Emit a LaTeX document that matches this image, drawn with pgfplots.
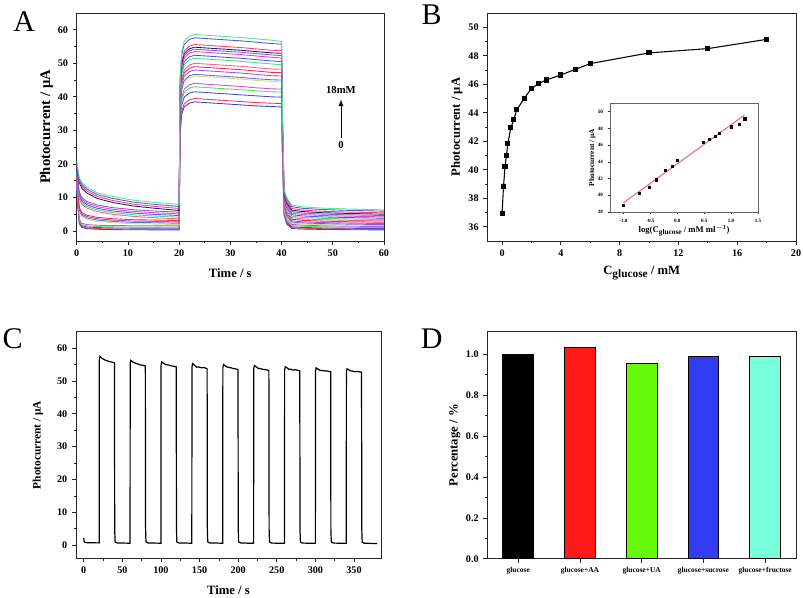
\documentclass[border=0pt]{standalone}
\usepackage{fontspec}
\setmainfont{Liberation Serif}
\usepackage{pgfplots}
\pgfplotsset{compat=1.18}
\usepackage{pgfplotstable}

\definecolor{col1}{RGB}{90,225,150}
\definecolor{col2}{RGB}{80,90,210}
\definecolor{col3}{RGB}{255,60,120}
\definecolor{col4}{RGB}{30,30,110}
\definecolor{col5}{RGB}{150,80,200}
\definecolor{col6}{RGB}{220,70,200}
\definecolor{col7}{RGB}{70,90,230}
\definecolor{col8}{RGB}{70,220,120}
\definecolor{col9}{RGB}{255,90,150}
\definecolor{col10}{RGB}{250,40,80}
\definecolor{col11}{RGB}{170,80,210}
\definecolor{col12}{RGB}{100,110,210}
\definecolor{col13}{RGB}{200,225,130}
\definecolor{col14}{RGB}{210,80,210}
\definecolor{col15}{RGB}{80,220,100}
\definecolor{col16}{RGB}{70,80,200}
\definecolor{col17}{RGB}{250,50,90}
\definecolor{col18}{RGB}{60,70,190}
\definecolor{fitpink}{RGB}{240,100,150}
\definecolor{barred}{RGB}{255,25,25}
\definecolor{bargreen}{RGB}{100,250,10}
\definecolor{barblue}{RGB}{50,60,240}
\definecolor{baraqua}{RGB}{120,255,220}

\pgfplotstableread{
t c1 c2 c3 c4 c5 c6 c7 c8 c9 c10 c11 c12 c13 c14 c15 c16 c17 c18
0 21 20.5 20 19.5 19 18.5 18 17.5 17 16.5 16 15.5 15 14.5 14 13.5 13 12.5
0.5 16.0 15.5 14.95 14.4 11.6 11.1 10.6 10.1 9.6 7.1 6.7 6.3 5.9 3.45 3.05 2.75 2.45 2.2
1 14.45 13.9 13.35 12.8 10.0 9.5 9.0 8.5 8.0 5.5 5.1 4.7 4.3 2.3 1.9 1.6 1.3 1.05
2 13.0 12.45 11.9 11.3 8.8 8.3 7.8 7.3 6.8 4.7 4.3 3.9 3.5 1.9 1.5 1.2 0.9 0.7
4 11.4 10.85 10.3 9.7 7.75 7.25 6.75 6.25 5.75 4.05 3.65 3.25 2.85 1.7 1.3 1.0 0.7 0.5
7 10.3 9.7 9.1 8.5 6.95 6.45 5.95 5.45 4.95 3.65 3.25 2.85 2.45 1.6 1.2 0.9 0.6 0.4
11 9.2 8.6 8.0 7.45 6.35 5.85 5.35 4.85 4.35 3.35 2.95 2.55 2.15 1.55 1.15 0.85 0.55 0.35
15 8.55 7.95 7.35 6.8 5.95 5.45 4.95 4.45 3.95 3.25 2.85 2.45 2.05 1.53 1.13 0.83 0.53 0.33
20 7.9 7.3 6.7 6.1 5.6 5.1 4.6 4.1 3.6 3.1 2.7 2.3 1.9 1.5 1.1 0.8 0.5 0.3
20.2 45.9 45.0 43.4 42.6 42.1 41.4 40.5 39.7 38.4 37.5 36.7 35.6 35.1 33.4 32.5 31.3 29.8 29.0
20.5 53.5 52.6 50.7 49.9 49.3 48.7 47.6 46.8 45.4 44.4 43.5 42.3 41.8 39.8 38.8 37.4 35.6 34.7
21 56.6 55.6 53.6 52.9 52.3 51.6 50.5 49.6 48.1 47.2 46.2 44.9 44.4 42.3 41.3 39.9 37.9 37.0
22 58.1 57.1 55.1 54.3 53.7 53.0 51.9 51.0 49.5 48.5 47.5 46.3 45.8 43.6 42.6 41.1 39.1 38.1
23 58.6 57.6 55.6 54.8 54.2 53.5 52.4 51.5 50.0 49.0 48.0 46.7 46.2 44.0 43.0 41.5 39.5 38.5
26 58.3 57.3 55.3 54.5 53.9 53.2 52.1 51.2 49.7 48.7 47.7 46.4 45.9 43.7 42.7 41.2 39.2 38.2
29 58.0 57.0 55.0 54.2 53.6 52.9 51.8 50.9 49.4 48.4 47.4 46.1 45.6 43.4 42.4 40.9 38.9 37.9
32 57.7 56.7 54.7 53.9 53.3 52.6 51.5 50.6 49.1 48.1 47.1 45.8 45.3 43.1 42.1 40.6 38.6 37.6
35 57.3 56.3 54.3 53.5 52.9 52.2 51.1 50.2 48.7 47.7 46.7 45.4 44.9 42.7 41.8 40.3 38.3 37.3
38 56.9 55.9 53.9 53.1 52.5 51.8 50.7 49.8 48.3 47.3 46.3 45.1 44.6 42.4 41.5 40.0 38.1 37.1
40 56.5 55.7 53.8 53.0 52.3 51.6 50.5 49.6 48.2 47.2 46.2 45.0 44.4 42.3 41.4 39.9 38.0 37.0
40.2 33.9 33.3 32.0 31.4 30.8 30.3 29.5 28.8 27.9 27.1 26.4 25.6 25.1 23.9 23.2 22.3 21.1 20.5
40.5 12.3 11.9 11.2 10.76 10.32 9.89 9.4 8.94 8.42 7.95 7.48 7.07 6.74 6.22 5.85 5.4 5.0 4.7
41 10.0 9.5 8.87 8.38 7.88 7.36 6.85 6.35 5.83 5.33 4.82 4.4 4.0 3.56 3.16 2.72 2.38 2.06
42 7.7 7.24 6.69 6.23 5.78 5.31 4.85 4.39 3.94 3.48 3.03 2.67 2.31 1.96 1.6 1.23 0.98 0.72
44 7.2 6.76 6.23 5.79 5.36 4.91 4.48 4.04 3.6 3.17 2.73 2.4 2.06 1.72 1.39 1.04 0.81 0.57
48 6.8 6.38 5.86 5.44 5.02 4.6 4.18 3.76 3.34 2.92 2.5 2.18 1.86 1.54 1.22 0.89 0.67 0.45
53 6.55 6.14 5.63 5.22 4.81 4.4 3.99 3.58 3.17 2.76 2.35 2.04 1.73 1.42 1.11 0.8 0.59 0.38
60 6.3 5.9 5.4 5.0 4.6 4.2 3.8 3.4 3.0 2.6 2.2 1.9 1.6 1.3 1.0 0.7 0.5 0.3
}\dataA

\pgfplotstableread{
c p
0 36.9
0.1 38.8
0.2 40.2
0.3 41.0
0.4 41.85
0.6 42.95
0.8 43.5
1 44.2
1.5 45.0
2 45.7
2.5 46.05
3 46.3
4 46.65
5 47.05
6 47.45
10 48.2
14 48.5
18 49.15
}\dataB

\pgfplotstableread{
l p
-1.0 38.8
-0.699 40.2
-0.523 41.0
-0.398 41.85
-0.222 42.95
-0.097 43.5
0.0 44.2
0.477 46.3
0.602 46.65
0.699 47.05
0.778 47.45
1.0 48.2
1.146 48.5
1.255 49.15
}\dataInset

\pgfplotsset{
  panel/.style={
    scale only axis, anchor=south west,
    axis line style={black!85, line width=0.6pt},
    every tick/.style={black!85, line width=0.5pt},
    tick align=outside, tick pos=left,
    minor tick num=1,
    major tick length=3pt, minor tick length=1.7pt,
    /pgf/number format/assume math mode=true,
    tick label style={font=\bfseries\fontsize{7.6}{8.5}\selectfont},
    label style={font=\bfseries\fontsize{9.5}{11}\selectfont},
    xlabel style={anchor=center}, ylabel style={anchor=center},
  }
}

\begin{document}
\begin{tikzpicture}
\path[use as bounding box] (0,0) rectangle (602.25pt,447.75pt);

% Panel letters
\node[font=\fontsize{22.5}{24}\selectfont] at (18.1pt,431.5pt) {A};
\node[font=\fontsize{22.5}{24}\selectfont] at (323.7pt,436.5pt) {B};
\node[font=\fontsize{22.5}{24}\selectfont] at (9.4pt,194pt) {C};
\node[font=\fontsize{22.5}{24}\selectfont] at (323.7pt,194pt) {D};

% ---------------- Panel A ----------------
\begin{axis}[panel, at={(57.5pt,267pt)}, width=230.5pt, height=171pt,
  xmin=0, xmax=60, ymin=-3, ymax=65,
  xtick={0,10,...,60}, ytick={0,10,...,60},
  xlabel={Time / s}, ylabel={Photocurrent / μA},
  xlabel style={at={(axis description cs:0.5,-0.14)}},
  ylabel style={at={(axis description cs:-0.098,0.5)}, font=\bfseries\fontsize{11}{12}\selectfont},
]
\pgfplotsinvokeforeach{18,17,...,1}{
  \addplot[col#1, line width=0.65pt] table[x=t, y=c#1] {\dataA};
}
\node[font=\bfseries\fontsize{8}{9}\selectfont] at (axis cs:51.6,42.1) {18mM};
\node[font=\bfseries\fontsize{8}{9}\selectfont] at (axis cs:51.6,25.5) {0};
\draw[-latex, line width=0.7pt] (axis cs:51.6,27.6) -- (axis cs:51.6,39.2);
\end{axis}

% ---------------- Panel B ----------------
\begin{axis}[panel, at={(365.5pt,267pt)}, width=231.5pt, height=171pt,
  xmin=-1, xmax=20, ymin=35, ymax=51,
  xtick={0,4,...,20}, ytick={36,38,...,50},
  xlabel={C\raisebox{-0.45ex}{\fontsize{8.5}{9}\selectfont glucose} / mM}, ylabel={Photocurrent / μA},
  xlabel style={at={(axis description cs:0.5,-0.14)}},
  ylabel style={at={(axis description cs:-0.099,0.5)}},
]
\addplot[black, line width=0.8pt, mark=square*, mark size=1.5pt] table[x=c, y=p] {\dataB};
\end{axis}

% Inset
\begin{axis}[panel, at={(457.5pt,288.75pt)}, width=111pt, height=81.5pt,
  axis background/.style={fill=white},
  xmin=-1.25, xmax=1.5, ymin=38, ymax=51,
  xtick={-1,-0.5,0,0.5,1,1.5}, ytick={38,40,...,50},
  minor tick num=0, major tick length=1.8pt,
  axis line style={black!60, line width=0.5pt},
  tick label style={font=\bfseries\fontsize{3.8}{4}\selectfont},
  xticklabel style={/pgf/number format/.cd, fixed, fixed zerofill, precision=1},
  xlabel={log(C\raisebox{-0.4ex}{\fontsize{5.5}{6}\selectfont glucose} / mM ml$^{\mathbf{-1}}$)},
  ylabel={Photocurrent / μA},
  xlabel style={at={(axis description cs:0.5,-0.17)}, font=\bfseries\fontsize{6.5}{7}\selectfont},
  ylabel style={at={(axis description cs:-0.12,0.5)}, font=\bfseries\fontsize{5.5}{6}\selectfont},
]
\addplot[fitpink, line width=0.8pt] coordinates {(-1.0,39.1) (1.25,49.6)};
\addplot[only marks, black, mark=square*, mark size=0.8pt] table[x=l, y=p] {\dataInset};
\end{axis}

% ---------------- Panel C ----------------
\begin{axis}[panel, at={(57pt,29pt)}, width=228.75pt, height=170pt,
  xmin=-10, xmax=385, ymin=-4, ymax=65,
  xtick={0,50,...,350}, ytick={0,10,...,60},
  xlabel={Time / s}, ylabel={Photocurrent / μA},
  xlabel style={at={(axis description cs:0.5,-0.14)}},
  ylabel style={at={(axis description cs:-0.125,0.5)}, font=\bfseries\fontsize{8.5}{10}\selectfont},
]
\addplot[black, line width=0.9pt] coordinates {
(0,2.2) (0.5,1.2) (1.5,0.85) (5,0.75) (20,0.7)
(20.2,56.5) (21,57.5) (24,56.8) (26,56.6) (28,56.3) (31,56.1) (33,55.9) (36,55.8) (39.8,55.5) (40.1,5) (40.6,1.0) (43,0.7) (60,0.6)
(60.2,55.3) (61,56.3) (64,55.7) (66,55.5) (68,55.3) (71,55.1) (73,54.9) (76,54.8) (79.8,54.6) (80.1,5) (80.6,1.0) (83,0.7) (100,0.6)
(100.2,54.8) (101,55.8) (104,55.3) (106,55.0) (108,54.9) (111,54.8) (113,54.6) (116,54.5) (119.8,54.3) (120.1,5) (120.6,1.0) (123,0.7) (140,0.6)
(140.2,54.3) (141,55.3) (144,54.7) (146,54.2) (148,54.3) (151,54.1) (153,54.0) (156,54.1) (159.8,53.7) (160.1,5) (160.6,1.0) (163,0.7) (180,0.6)
(180.2,54.0) (181,55.0) (184,54.5) (186,54.2) (188,54.1) (191,54.0) (193,53.8) (196,53.7) (199.8,53.5) (200.1,5) (200.6,1.0) (203,0.7) (220,0.55)
(220.2,53.7) (221,54.7) (224,54.2) (226,53.8) (228,53.8) (231,53.6) (233,53.5) (236,53.4) (239.8,53.2) (240.1,5) (240.6,1.0) (243,0.65) (260,0.55)
(260.2,53.3) (261,54.3) (264,53.9) (266,53.5) (268,53.6) (271,53.3) (273,53.4) (276,53.3) (279.8,53.1) (280.1,5) (280.6,1.0) (283,0.65) (300,0.55)
(300.2,53.0) (301,54.0) (304,53.5) (306,53.2) (308,53.2) (311,53.1) (313,53.0) (316,53.0) (319.8,52.8) (320.1,5) (320.6,1.0) (323,0.65) (340,0.55)
(340.2,52.7) (341,53.7) (344,53.3) (346,53.0) (348,53.0) (351,52.8) (353,52.9) (356,52.8) (359.8,52.7) (360.1,5) (360.6,1.0) (363,0.6) (380,0.5)
};
\end{axis}

% ---------------- Panel D ----------------
\begin{axis}[panel, at={(365.5pt,28.7pt)}, width=231.5pt, height=170.25pt,
  xmin=-0.5, xmax=4.5, ymin=0, ymax=1.11,
  xtick={0,1,2,3,4}, minor x tick num=0,
  xticklabels={glucose, glucose+AA, glucose+UA, glucose+sucrose, glucose+fructose},
  xticklabel style={font=\bfseries\fontsize{5.6}{6}\selectfont},
  ytick={0,0.2,0.4,0.6,0.8,1.0},
  yticklabel style={/pgf/number format/.cd, fixed, fixed zerofill, precision=1},
  ylabel={Percentage / \%},
  ylabel style={at={(axis description cs:-0.105,0.5)}},
]
\addplot[ybar, bar shift=0pt, bar width=0.5, fill=black, draw=black, line width=0.6pt] coordinates {(0,1.0)};
\addplot[ybar, bar shift=0pt, bar width=0.5, fill=barred, draw=black, line width=0.6pt] coordinates {(1,1.031)};
\addplot[ybar, bar shift=0pt, bar width=0.5, fill=bargreen, draw=black, line width=0.6pt] coordinates {(2,0.956)};
\addplot[ybar, bar shift=0pt, bar width=0.5, fill=barblue, draw=black, line width=0.6pt] coordinates {(3,0.99)};
\addplot[ybar, bar shift=0pt, bar width=0.5, fill=baraqua, draw=black, line width=0.6pt] coordinates {(4,0.988)};
\end{axis}
\end{tikzpicture}
\end{document}
